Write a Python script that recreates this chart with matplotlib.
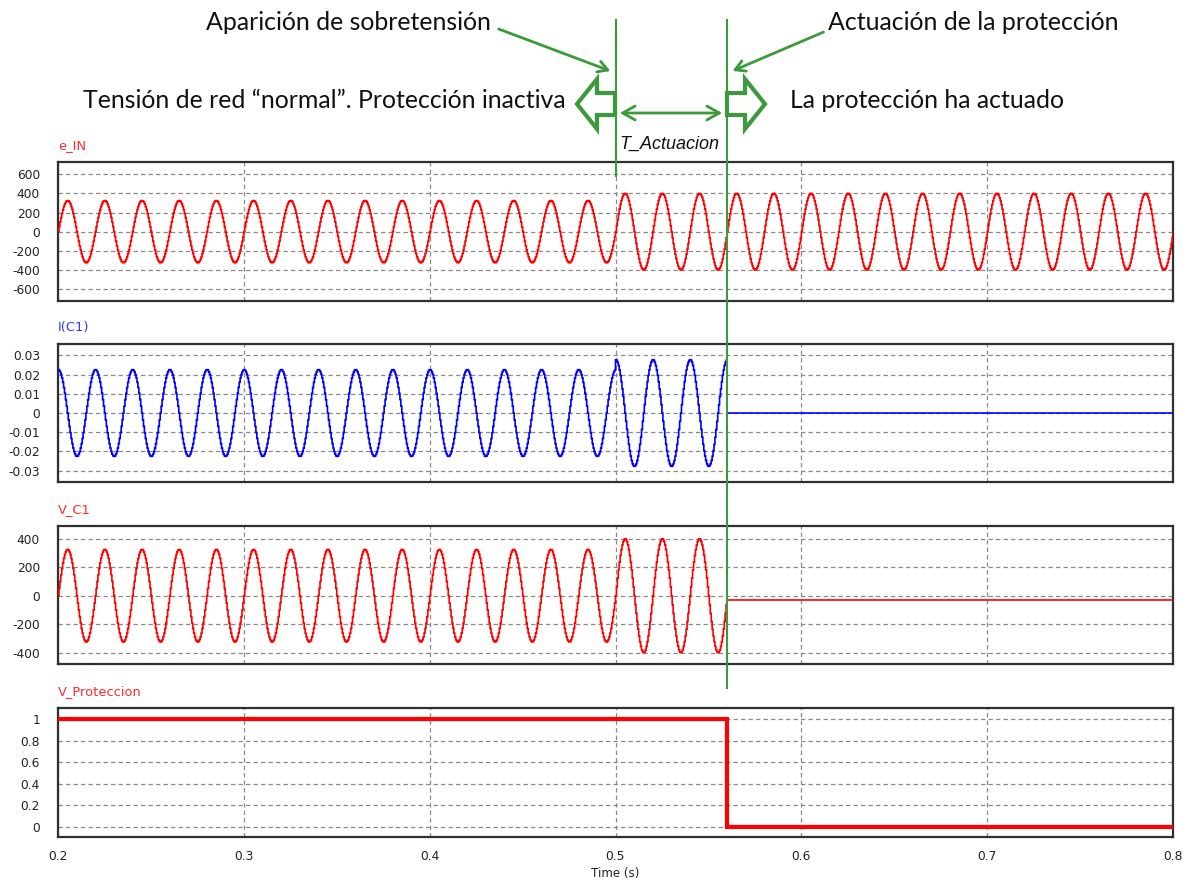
import numpy as np
import matplotlib
matplotlib.use("Agg")
import matplotlib.pyplot as plt
from matplotlib.patches import Polygon, FancyArrowPatch
from matplotlib import transforms

# ---------------- data ----------------
freq_hz = 50.0                     # grid frequency (30 cycles between 0.2 and 0.8 s)
t_start, t_end = 0.2, 0.8
t_overvoltage = 0.5                # "Aparición de sobretensión"
t_trip = 0.56                      # "Actuación de la protección"
sample_dt = 0.0005                 # simulator step (staircase look)

e_in_amp = [325.0, 400.0]          # amplitude before / after overvoltage
i_c1_amp = [0.0226, 0.0278]        # capacitor current amplitude before / after
v_c1_amp = [325.0, 400.0]          # capacitor voltage amplitude before / after
v_c1_after_trip = -30.0            # residual capacitor voltage after trip
i_c1_after_trip = 0.0
v_prot_levels = [1.0, 0.0]         # protection signal before / after trip

x_ticks = [0.2, 0.3, 0.4, 0.5, 0.6, 0.7, 0.8]
e_in_ticks = [-600, -400, -200, 0, 200, 400, 600]
i_c1_ticks = [-0.03, -0.02, -0.01, 0, 0.01, 0.02, 0.03]
v_c1_ticks = [-400, -200, 0, 200, 400]
v_prot_ticks = [0, 0.2, 0.4, 0.6, 0.8, 1]

titles = ["e_IN", "I(C1)", "V_C1", "V_Proteccion"]
title_colors = ["#ff2a2a", "#3535ff", "#ff2a2a", "#ff2a2a"]

# ---------------- build waveforms ----------------
t = np.arange(t_start, t_end + sample_dt / 2, sample_dt)
w = 2 * np.pi * freq_hz
after_ov = t >= t_overvoltage
after_trip = t >= t_trip

e_in = np.where(after_ov, e_in_amp[1], e_in_amp[0]) * np.sin(w * t)
i_c1 = np.where(after_ov, i_c1_amp[1], i_c1_amp[0]) * np.cos(w * t)
i_c1 = np.where(after_trip, i_c1_after_trip, i_c1)
v_c1 = np.where(after_ov, v_c1_amp[1], v_c1_amp[0]) * np.sin(w * t)
v_c1 = np.where(after_trip, v_c1_after_trip, v_c1)
v_prot = np.where(after_trip, v_prot_levels[1], v_prot_levels[0])

# ---------------- figure ----------------
W, H = 1187, 882
fig = plt.figure(figsize=(W / 100, H / 100), dpi=100)

def ax_rect(left, top, right, bottom):
    return [left / W, 1 - bottom / H, (right - left) / W, (bottom - top) / H]

panels = [
    (ax_rect(58, 162, 1173, 301), e_in, "#ff0000", 1.2, e_in_ticks, (-725, 728)),
    (ax_rect(58, 344, 1173, 482), i_c1, "#0000ff", 1.2, i_c1_ticks, (-0.036, 0.036)),
    (ax_rect(58, 526, 1173, 664), v_c1, "#ff0000", 1.2, v_c1_ticks, (-480, 490)),
    (ax_rect(58, 708, 1173, 837), v_prot, "#ff0000", 3.0, v_prot_ticks, (-0.093, 1.102)),
]

grid_kw = dict(color="#8a8a8a", linestyle=(0, (3.5, 2.5)), linewidth=0.9)
tick_font = dict(family="DejaVu Sans", size=8.8)
axes = []
for i, (rect, y, col, lw, yt, ylim) in enumerate(panels):
    ax = fig.add_axes(rect)
    ax.plot(t, y, color=col, lw=lw, drawstyle="steps-post", zorder=3,
            solid_joinstyle="miter")
    ax.set_xlim(t_start, t_end)
    ax.set_ylim(*ylim)
    ax.set_yticks(yt)
    ax.set_yticklabels([f"{v:g}" for v in yt], fontdict=tick_font, color="#222222")
    ax.set_xticks(x_ticks)
    if i == 3:
        ax.set_xticklabels([f"{v:g}" for v in x_ticks], fontdict=tick_font, color="#222222")
    else:
        ax.set_xticklabels([])
    ax.tick_params(length=0, pad=13, axis="y")
    ax.tick_params(length=0, pad=9, axis="x")
    ax.grid(True, **grid_kw)
    ax.set_axisbelow(True)
    for s in ax.spines.values():
        s.set_color("#303030")
        s.set_linewidth(1.6)
    axes.append(ax)
    top_px = H - (rect[1] + rect[3]) * H
    fig.text(58 / W, 1 - (top_px - 16) / H, titles[i], color=title_colors[i],
             fontsize=9.4, family="DejaVu Sans", ha="left", va="center")

fig.text(615 / W, 1 - 873 / H, "Time (s)", fontsize=8.6, family="DejaVu Sans",
         ha="center", va="center", color="#222222")

# ---------------- annotations ----------------
green = "#3c9a3c"

def fy(py):
    return 1 - py / H

def fx(px):
    return px / W

blend = transforms.blended_transform_factory(axes[0].transData, fig.transFigure)
fig.add_artist(plt.Line2D([t_overvoltage, t_overvoltage], [fy(20), fy(176)],
                          transform=blend, color=green, lw=1.5, zorder=10))
fig.add_artist(plt.Line2D([t_trip, t_trip], [fy(20), fy(688)],
                          transform=blend, color=green, lw=1.5, zorder=10))

ann_font = dict(family="Lato", size=17.9, color="#111111")
fig.text(fx(491), fy(22), "Aparición de sobretensión", ha="right", va="center", **ann_font)
fig.text(fx(828), fy(22), "Actuación de la protección", ha="left", va="center", **ann_font)
fig.text(fx(566), fy(100), "Tensión de red \u201cnormal\u201d. Protección inactiva",
         ha="right", va="center", **ann_font)
fig.text(fx(790), fy(100), "La protección ha actuado", ha="left", va="center", **ann_font)
fig.text(fx(619), fy(144), "T_Actuacion", ha="left", va="center",
         family="Liberation Sans", style="italic", size=13, color="#111111")

arrow_kw = dict(arrowstyle="->,head_length=7,head_width=4", color=green, lw=2.0,
                transform=fig.transFigure, zorder=10)
fig.add_artist(FancyArrowPatch((fx(496), fy(28)), (fx(613), fy(72)), **arrow_kw))
fig.add_artist(FancyArrowPatch((fx(826), fy(31)), (fx(730), fy(72)), **arrow_kw))
fig.add_artist(FancyArrowPatch((fx(617), fy(113)), (fx(725), fy(113)),
                               arrowstyle="<->,head_length=9,head_width=5", color=green,
                               lw=2.0, transform=fig.transFigure, zorder=10))

def block_arrow(pts):
    P = [(fx(x), fy(y)) for x, y in pts]
    fig.add_artist(Polygon(P, closed=True, fill=False, edgecolor=green, lw=3.0,
                           joinstyle="miter", transform=fig.transFigure, zorder=10))

block_arrow([(615, 93), (597, 93), (597, 79), (577, 104), (597, 129), (597, 115), (615, 115)])
block_arrow([(727, 93), (745, 93), (745, 79), (765, 104), (745, 129), (745, 115), (727, 115)])

fig.savefig("out.png", dpi=100)
